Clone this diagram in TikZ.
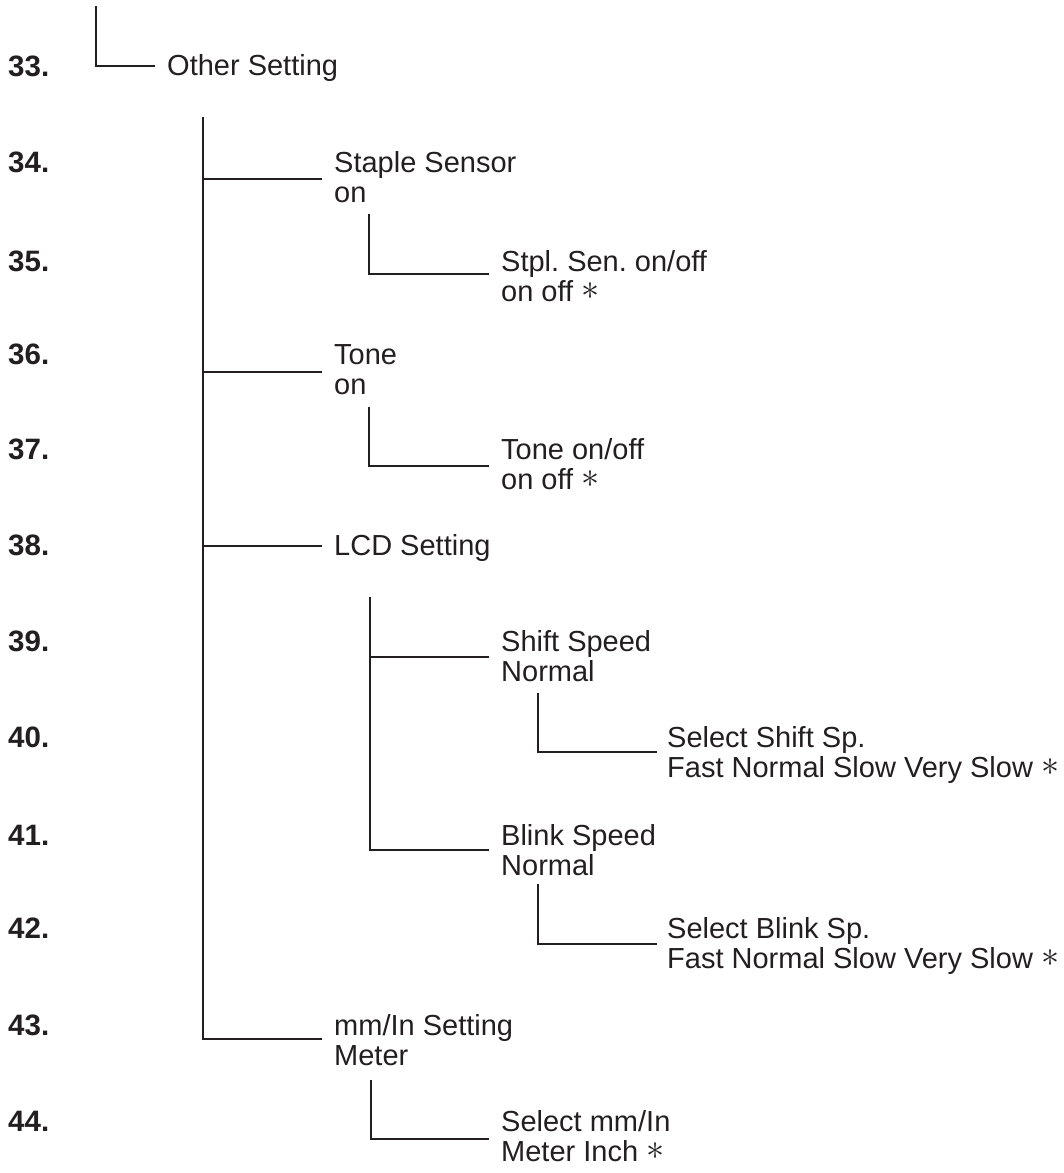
\documentclass[tikz,border=0pt]{standalone}
\usepackage{fontspec}
\setmainfont{Liberation Sans}
\frenchspacing
\definecolor{ink}{RGB}{35,31,32}
\newcommand\twoline[2]{\begin{tabular}[t]{@{}l@{}}#1\\#2\end{tabular}}
\newcommand\myast{\smash{\raisebox{1.5pt}{\scalebox{1.45}{$\ast$}}}}
\begin{document}
\begin{tikzpicture}[x=1pt,y=-1pt,
  conn/.style={draw=ink,line width=2.8pt,line join=miter},
  txt/.style={anchor=base west,inner sep=0pt,text=ink,font=\fontsize{29}{30}\selectfont\frenchspacing},
  num/.style={anchor=base west,inner sep=0pt,text=ink,font=\fontsize{29.5}{30}\selectfont\bfseries}]
\useasboundingbox (0,0) rectangle (1064,1173);

% row labels
\node[num] (n33) at (8,76) {33.};
\node[num] (n34) at (8,172) {34.};
\node[num] (n35) at (8,271) {35.};
\node[num] (n36) at (8,364) {36.};
\node[num] (n37) at (8,459) {37.};
\node[num] (n38) at (8,555) {38.};
\node[num] (n39) at (8,651) {39.};
\node[num] (n40) at (8,747) {40.};
\node[num] (n41) at (8,845) {41.};
\node[num] (n42) at (8,938) {42.};
\node[num] (n43) at (8,1035) {43.};
\node[num] (n44) at (8,1131) {44.};

% texts
\node[txt] (t33) at (167,75) {Other Setting};
\node[txt] (t34) at (334,172) {\twoline{Staple Sensor}{on}};
\node[txt] (t35) at (501,271) {\twoline{Stpl. Sen. on/off}{on off \myast}};
\node[txt] (t36) at (334,364) {\twoline{Tone}{on}};
\node[txt] (t37) at (501,459) {\twoline{Tone on/off}{on off \myast}};
\node[txt] (t38) at (334,555) {LCD Setting};
\node[txt] (t39) at (501,651) {\twoline{Shift Speed}{Normal}};
\node[txt] (t40) at (667,747) {\twoline{Select Shift Sp.}{Fast Normal Slow Very Slow \myast}};
\node[txt] (t41) at (501,845) {\twoline{Blink Speed}{Normal}};
\node[txt] (t42) at (667,938) {\twoline{Select Blink Sp.}{Fast Normal Slow Very Slow \myast}};
\node[txt] (t43) at (334,1035) {\twoline{mm/In Setting}{Meter}};
\node[txt] (t44) at (501,1131) {\twoline{Select mm/In}{Meter Inch \myast}};

% connector coordinates
\coordinate (top0) at (96,6);
\coordinate (e33) at (155,66);
\coordinate (top1) at (203,117);
\coordinate (e34) at (322,179);
\coordinate (e36) at (322,372);
\coordinate (e38) at (322,546);
\coordinate (e43) at (322,1039);
\coordinate (top35) at (369,214);
\coordinate (e35) at (489,274);
\coordinate (top37) at (369,407);
\coordinate (e37) at (489,466);
\coordinate (top38) at (370,597);
\coordinate (e39) at (489,657);
\coordinate (e41) at (489,850);
\coordinate (top40) at (538,693);
\coordinate (e40) at (657,752);
\coordinate (top42) at (538,884);
\coordinate (e42) at (657,944);
\coordinate (top44) at (371,1080);
\coordinate (e44) at (489,1139);

% connectors
\draw[conn] (top0) |- (e33);
\draw[conn] (top1) |- (e43);
\draw[conn] (top1 |- e34) -- (e34);
\draw[conn] (top1 |- e36) -- (e36);
\draw[conn] (top1 |- e38) -- (e38);
\draw[conn] (top35) |- (e35);
\draw[conn] (top37) |- (e37);
\draw[conn] (top38) |- (e41);
\draw[conn] (top38 |- e39) -- (e39);
\draw[conn] (top40) |- (e40);
\draw[conn] (top42) |- (e42);
\draw[conn] (top44) |- (e44);
\end{tikzpicture}
\end{document}
